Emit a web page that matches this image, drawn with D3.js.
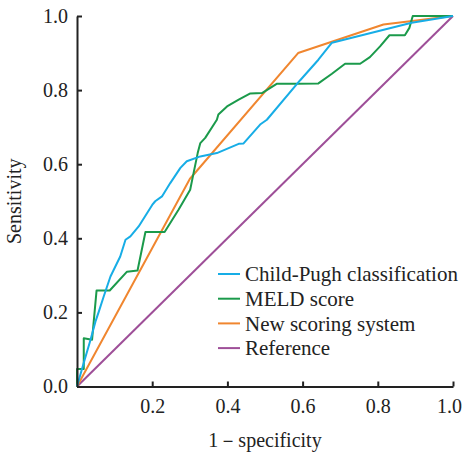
<!DOCTYPE html>
<html>
<head>
<meta charset="utf-8">
<script src="https://cdn.jsdelivr.net/npm/d3@7"></script>
<style>
  body { margin: 0; background: #fff; }
</style>
</head>
<body>
<svg id="chart" width="463" height="455"></svg>
<script>
// ROC curves: [1 - specificity, sensitivity]
var childPugh = [[0,0],[0.018,0.064],[0.036,0.126],[0.049,0.175],[0.058,0.202],[0.071,0.243],
  [0.089,0.297],[0.115,0.351],[0.129,0.396],[0.142,0.405],[0.164,0.432],[0.2,0.49],[0.208,0.5],
  [0.226,0.513],[0.248,0.549],[0.275,0.59],[0.292,0.608],[0.328,0.621],[0.372,0.63],[0.43,0.655],
  [0.443,0.656],[0.487,0.707],[0.505,0.72],[0.593,0.826],[0.642,0.882],[0.678,0.928],[0.89,0.982],[1,1]];
var meld = [[0,0],[0,0.047],[0.018,0.047],[0.018,0.13],[0.04,0.126],[0.052,0.259],[0.087,0.259],
  [0.133,0.31],[0.161,0.313],[0.182,0.417],[0.233,0.417],[0.27,0.477],[0.301,0.531],[0.31,0.576],
  [0.321,0.63],[0.328,0.657],[0.341,0.671],[0.372,0.72],[0.376,0.734],[0.399,0.756],[0.43,0.774],
  [0.461,0.791],[0.492,0.792],[0.531,0.817],[0.585,0.817],[0.642,0.818],[0.678,0.844],[0.713,0.871],
  [0.753,0.871],[0.779,0.889],[0.806,0.918],[0.831,0.948],[0.872,0.948],[0.884,0.968],[0.893,1],[1,1]];
var newScore = [[0,0],[0.3,0.56],[0.588,0.9],[0.815,0.977],[1,1]];
var reference = [[0,0],[1,1]];

var seriesNames = ["Child-Pugh classification", "MELD score", "New scoring system", "Reference"];
var seriesColors = ["#17ade6", "#1b9a4b", "#f0862f", "#9e4f98"];
var ticks = [0, 0.2, 0.4, 0.6, 0.8, 1.0];

var FONT = "Liberation Serif, Tinos, DejaVu Serif, serif";
var svg = d3.select("#chart");
var margin = {left: 77, top: 16, right: 10, bottom: 69};
var W = 453 - margin.left, H = 386.5 - margin.top;

var x = d3.scaleLinear().domain([0, 1]).range([0, W]);
var y = d3.scaleLinear().domain([0, 1]).range([H, 0]);

var g = svg.append("g").attr("transform", "translate(" + margin.left + "," + margin.top + ")");

var line = d3.line().x(function(d) { return x(d[0]); }).y(function(d) { return y(d[1]); });

var data = [childPugh, meld, newScore, reference];
[3, 2, 1, 0].forEach(function(i) {
  g.append("path").datum(data[i])
    .attr("fill", "none").attr("stroke", seriesColors[i])
    .attr("stroke-width", 2).attr("stroke-linejoin", "round")
    .attr("d", line);
});

var xAxis = g.append("g").attr("transform", "translate(0," + H + ")")
  .call(d3.axisBottom(x).tickValues(ticks.slice(1)).tickFormat(d3.format(".1f"))
    .tickSizeInner(-5).tickSizeOuter(0).tickPadding(12));
var yAxis = g.append("g")
  .call(d3.axisLeft(y).tickValues(ticks).tickFormat(d3.format(".1f"))
    .tickSizeInner(-5).tickSizeOuter(0).tickPadding(9));

[xAxis, yAxis].forEach(function(a) {
  a.attr("font-family", FONT).attr("font-size", 20);
  a.select(".domain").attr("stroke", "#222").attr("stroke-width", 2);
  a.selectAll(".tick line").attr("stroke", "#222").attr("stroke-width", 2);
  a.selectAll(".tick text").attr("fill", "#222");
});
// keep the last x label inside the window
xAxis.selectAll(".tick text").filter(function(d) { return d === 1; }).attr("dx", "-4");

svg.append("text").attr("x", margin.left + W / 2).attr("y", 447)
  .attr("text-anchor", "middle").attr("font-family", FONT).attr("font-size", 20).attr("fill", "#222")
  .text("1－specificity");
svg.append("text").attr("transform", "translate(21," + (margin.top + H / 2) + ") rotate(-90)")
  .attr("text-anchor", "middle").attr("font-family", FONT).attr("font-size", 20).attr("fill", "#222")
  .text("Sensitivity");

var legend = svg.append("g").attr("transform", "translate(218,274)")
  .attr("font-family", FONT).attr("font-size", 21).attr("fill", "#222");
seriesNames.forEach(function(name, i) {
  var row = legend.append("g").attr("transform", "translate(0," + (i * 24.7) + ")");
  row.append("line").attr("x1", 0).attr("x2", 22).attr("y1", 0).attr("y2", 0)
    .attr("stroke", seriesColors[i]).attr("stroke-width", 2);
  row.append("text").attr("x", 27).attr("dy", "0.35em").text(name);
});
</script>
</body>
</html>
